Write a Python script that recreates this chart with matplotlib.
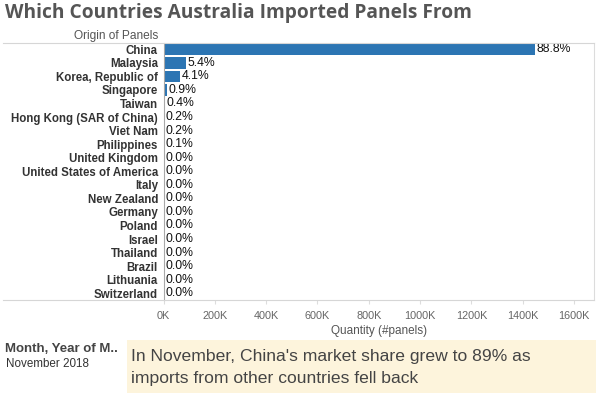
import matplotlib.pyplot as plt
from matplotlib.lines import Line2D
from matplotlib.patches import Rectangle
from matplotlib.ticker import FuncFormatter

# данные: страны и количество панелей (ноябрь 2018)
countries = ['China', 'Malaysia', 'Korea, Republic of', 'Singapore', 'Taiwan',
             'Hong Kong (SAR of China)', 'Viet Nam', 'Philippines', 'United Kingdom',
             'United States of America', 'Italy', 'New Zealand', 'Germany', 'Poland',
             'Israel', 'Thailand', 'Brazil', 'Lithuania', 'Switzerland']
panels = [1447500, 87400, 66200, 14000, 5900, 2600, 2600, 1000, 650,
          570, 490, 410, 330, 330, 250, 200, 160, 130, 80]
x_ticks = [0, 200000, 400000, 600000, 800000, 1000000, 1200000, 1400000, 1600000]

total = sum(panels)
shares = [v / total * 100 for v in panels]

plt.rcParams['font.family'] = ['Liberation Sans', 'DejaVu Sans']

W, H = 600, 395
fig = plt.figure(figsize=(6, 3.95), dpi=100)
fig.patch.set_facecolor('white')

ax = fig.add_axes([163.5 / W, 1 - 300 / H, (594 - 163.5) / W, (300 - 42.5) / H])
y = list(range(len(countries)))
ax.barh(y, panels, height=0.86, color='#2c75b3', left=0)
ax.set_ylim(len(countries) - 0.5, -0.5)
ax.set_xlim(0, 1678000)

for yi, v, s in zip(y, panels, shares):
    ax.text(v + 6000, yi, f'{s:.1f}%', va='center', ha='left', fontsize=8.8, color='#111111')

ax.set_yticks(y)
ax.set_yticklabels(countries, fontsize=8.3, fontweight='bold', color='#333333')
ax.tick_params(axis='y', length=0, pad=4)

ax.set_xticks(x_ticks)
ax.xaxis.set_major_formatter(FuncFormatter(lambda v, p: f'{int(v / 1000)}K'))
ax.tick_params(axis='x', length=3, color='#dddddd', labelsize=7.8, labelcolor='#666666', pad=5)
ax.set_xlabel('Quantity (#panels)', fontsize=8.5, color='#555555', labelpad=3)

for side in ['top', 'bottom']:
    ax.spines[side].set_visible(False)
ax.spines['left'].set_color('#a8a8a8')
ax.spines['left'].set_linewidth(0.8)
ax.spines['right'].set_color('#dcdcdc')
ax.spines['right'].set_linewidth(0.8)

# линии шапки и низа таблицы на всю ширину
for yy in [42.5, 300]:
    fig.add_artist(Line2D([3 / W, 594 / W], [1 - yy / H, 1 - yy / H],
                          color='#d6d6d6', lw=0.8, transform=fig.transFigure))

fig.text(5 / W, 1 - 13 / H, 'Which Countries Australia Imported Panels From',
         fontsize=13.8, fontweight='bold', color='#555555', va='center', ha='left',
         family=['Open Sans', 'DejaVu Sans'])
fig.text(158 / W, 1 - 36 / H, 'Origin of Panels', fontsize=8.6, color='#555555',
         va='center', ha='right')

# нижняя часть: фильтр и аннотация
fig.text(5 / W, 1 - 349 / H, 'Month, Year of M..', fontsize=9.5, fontweight='bold',
         color='#444444', va='center', ha='left')
fig.text(6 / W, 1 - 364 / H, 'November 2018', fontsize=8.4, color='#333333',
         va='center', ha='left')
fig.add_artist(Rectangle((127 / W, 1 - 393 / H), (596 - 127) / W, (393 - 340) / H,
                         facecolor='#fdf4dc', edgecolor='none', transform=fig.transFigure))
fig.text(131 / W, 1 - 357 / H, "In November, China's market share grew to 89% as",
         fontsize=12.6, color='#444444', va='center', ha='left')
fig.text(131 / W, 1 - 379 / H, 'imports from other countries fell back',
         fontsize=12.6, color='#444444', va='center', ha='left')

fig.savefig('out.png', dpi=100)
